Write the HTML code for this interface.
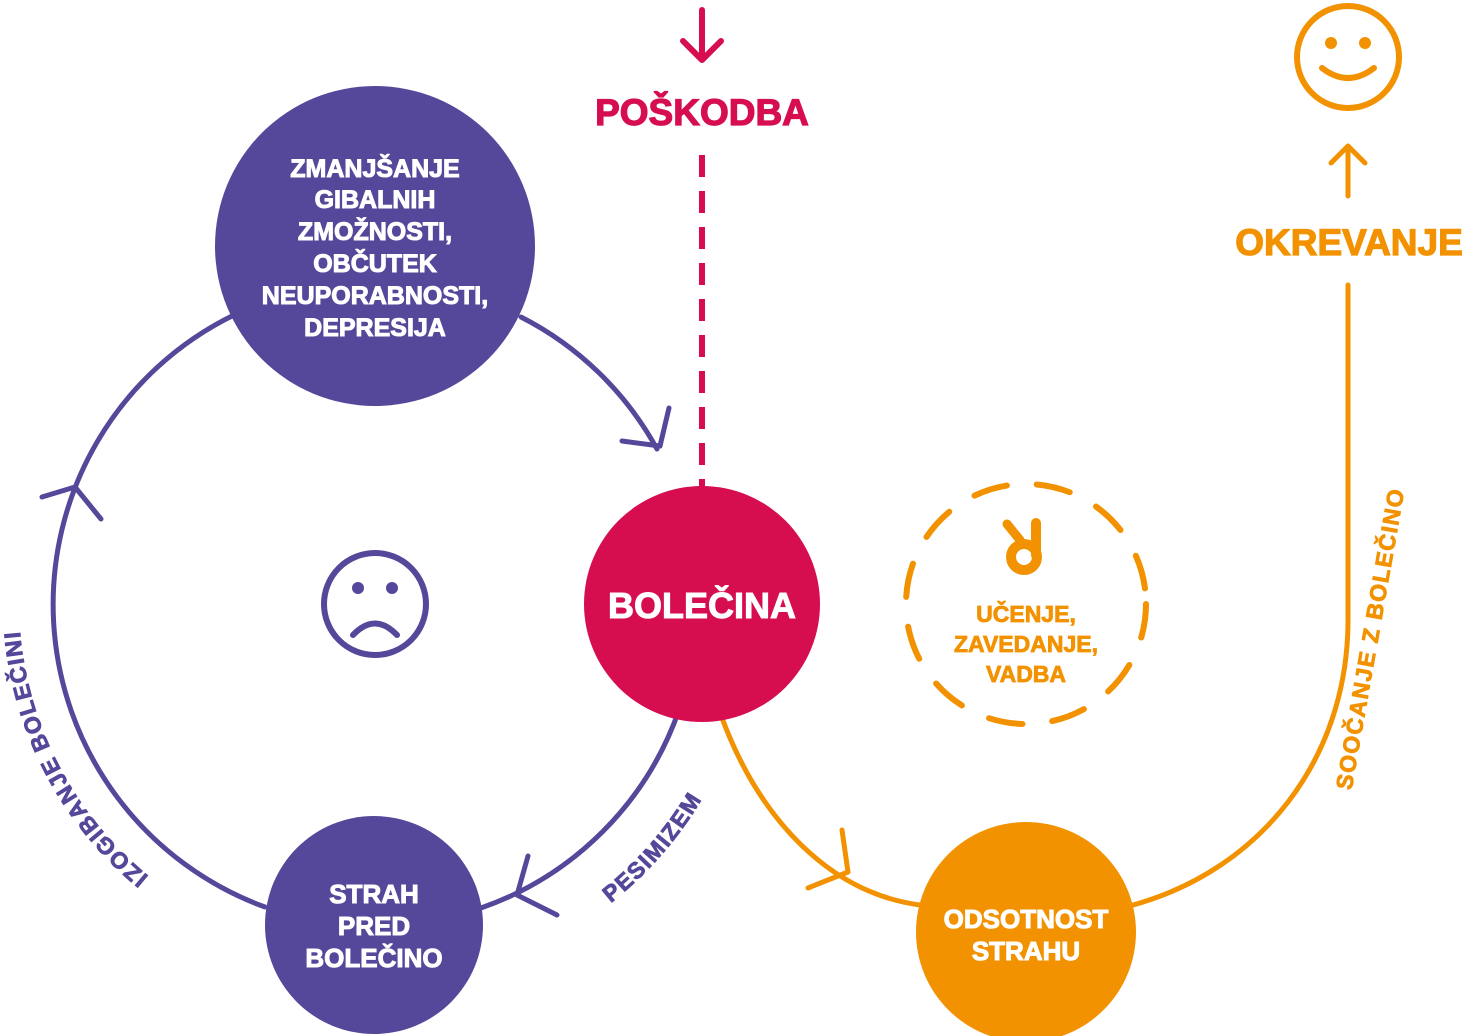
<!DOCTYPE html>
<html><head><meta charset="utf-8"><style>
html,body{margin:0;padding:0;background:#fff}
svg{display:block}
text{font-family:"Liberation Sans",sans-serif;font-weight:bold}
</style></head><body>
<svg width="1468" height="1036" viewBox="0 0 1468 1036" xmlns="http://www.w3.org/2000/svg">
<defs>
<path id="pL" d="M160,885 A356,356 0 0 1 19,616" fill="none"/>
<path id="pP" d="M580,925 A380,380 0 0 0 720,765" fill="none"/>
</defs>
<g fill="none" stroke="#55479a" stroke-width="5" stroke-linecap="round" stroke-linejoin="round">
<path d="M521,317 A322,322 0 0 1 657,449"/>
<path d="M622,441 L660,446 L669,408"/>
<path d="M679,710 A322,322 0 0 1 481,908"/>
<path d="M528,856 L517,895 L557,915"/>
<path d="M265,907 A322,322 0 0 1 234,315"/>
<path d="M42,497 L75,487 L101,519"/>
<circle cx="375" cy="604" r="51" stroke-width="6"/>
<path d="M353,635 Q375,612 397,635" stroke-width="6"/>
</g>
<circle cx="358" cy="588" r="6" fill="#55479a"/>
<circle cx="392" cy="588" r="6" fill="#55479a"/>
<g fill="none" stroke="#f39200" stroke-width="5" stroke-linecap="round" stroke-linejoin="round">
<path d="M722,718 C760,820 830,893 920,905"/>
<path d="M842,830 L848,872 L808,888"/>
<path d="M1133,905 C1260,870 1348,760 1348,620 L1348,285"/>
<path d="M1348,196 L1348,147 M1331,163 L1348,146 L1365,163"/>
<circle cx="1348" cy="57" r="51" stroke-width="6"/>
<path d="M1322,68 Q1348,88 1374,68" stroke-width="6"/>
<circle cx="1026" cy="604" r="120" stroke-width="6" stroke-dasharray="34 30"/>
<path d="M1036,523 L1036,555" stroke-width="10"/>
<path d="M1007,524 L1020,540" stroke-width="9"/>
</g>
<circle cx="1331" cy="43" r="6" fill="#f39200"/>
<circle cx="1365" cy="43" r="6" fill="#f39200"/>
<circle cx="1024" cy="557" r="13" fill="none" stroke="#f39200" stroke-width="10"/>
<g fill="none" stroke="#d60e50" stroke-width="6" stroke-linecap="round" stroke-linejoin="round">
<path d="M702,10 L702,58 M683,41 L702,60 L721,41"/>
<path d="M702,155 L702,490" stroke-linecap="butt" stroke-dasharray="22 14"/>
</g>
<circle cx="375" cy="246" r="160" fill="#55479a"/>
<circle cx="702" cy="604" r="118" fill="#d60e50"/>
<circle cx="374" cy="925" r="109" fill="#55479a"/>
<circle cx="1026" cy="932" r="110" fill="#f39200"/>
<g fill="#fff" stroke="#fff" stroke-width="1" text-anchor="middle" font-size="25">
<text x="375" y="177">ZMANJŠANJE</text>
<text x="375" y="208">GIBALNIH</text>
<text x="375" y="240">ZMOŽNOSTI,</text>
<text x="375" y="272">OBČUTEK</text>
<text x="375" y="304">NEUPORABNOSTI,</text>
<text x="375" y="336">DEPRESIJA</text>
<text x="374" y="903" font-size="26">STRAH</text>
<text x="374" y="935" font-size="26">PRED</text>
<text x="374" y="967" font-size="26">BOLEČINO</text>
<text x="1026" y="928" font-size="26">ODSOTNOST</text>
<text x="1026" y="960" font-size="26">STRAHU</text>
<text x="702" y="618" font-size="36">BOLEČINA</text>
</g>
<text x="702" y="125" fill="#d60e50" stroke="#d60e50" stroke-width="1.2" font-size="37" text-anchor="middle">POŠKODBA</text>
<text x="1349" y="255" fill="#f39200" stroke="#f39200" stroke-width="1.2" font-size="37" text-anchor="middle">OKREVANJE</text>
<g fill="#f39200" stroke="#f39200" stroke-width="0.8" text-anchor="middle" font-size="23">
<text x="1026" y="622">UČENJE,</text>
<text x="1026" y="652">ZAVEDANJE,</text>
<text x="1026" y="682">VADBA</text>
</g>
<text fill="#f39200" stroke="#f39200" stroke-width="0.8" font-size="23" letter-spacing="1.5" text-anchor="middle" transform="translate(1378,640) rotate(-80)">SOOČANJE Z BOLEČINO</text>
<text fill="#55479a" stroke="#55479a" stroke-width="0.8" font-size="23" letter-spacing="1.5" text-anchor="middle"><textPath href="#pL" startOffset="50%">IZOGIBANJE BOLEČINI</textPath></text>
<text fill="#55479a" stroke="#55479a" stroke-width="0.8" font-size="23" letter-spacing="1.5" text-anchor="middle"><textPath href="#pP" startOffset="50%">PESIMIZEM</textPath></text>
</svg>
</body></html>
